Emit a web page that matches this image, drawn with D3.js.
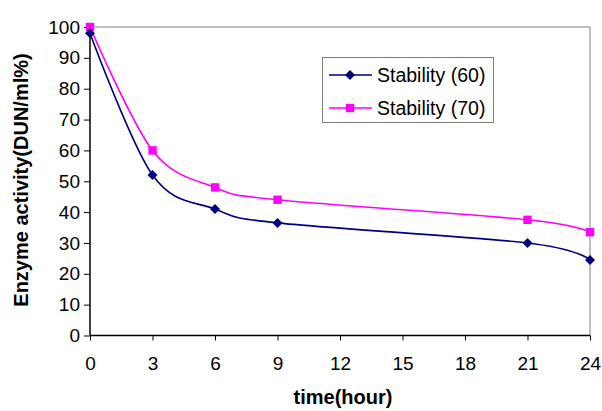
<!DOCTYPE html>
<html><head><meta charset="utf-8">
<script src="https://cdn.jsdelivr.net/npm/d3@7"></script>
<style>body{margin:0;background:#fff}svg{display:block;font-family:Arial,"Liberation Sans",sans-serif}</style>
</head><body><svg id="c" width="602" height="411"></svg>
<script>
const hours = [0, 3, 6, 9, 21, 24];
const stability60 = [98, 52, 41, 36.5, 30, 24.5];
const stability70 = [100, 60, 48, 44, 37.5, 33.5];
const xTicks = [0, 3, 6, 9, 12, 15, 18, 21, 24];
const yTicks = [0, 10, 20, 30, 40, 50, 60, 70, 80, 90, 100];
const seriesNames = ["Stability (60)", "Stability (70)"];

const svg = d3.select("#c");
const L = 90, R = 590, T = 27, B = 335.5;
const x = d3.scaleLinear().domain([0, 24]).range([L, R]);
const y = d3.scaleLinear().domain([0, 100]).range([B, T]);

svg.append("path").attr("d", `M${L},${T}H${R}V${B}`).attr("fill","none").attr("stroke","#808080").attr("stroke-width",1);

const yAx = svg.append("g").attr("transform",`translate(${L},0)`)
  .call(d3.axisLeft(y).tickValues(yTicks).tickSize(6).tickPadding(4));
const xAx = svg.append("g").attr("transform",`translate(0,${B})`)
  .call(d3.axisBottom(x).tickValues(xTicks).tickSize(5).tickPadding(16));
[yAx, xAx].forEach(g => {
  g.select(".domain").attr("stroke","#000").attr("stroke-width",1.5);
  g.selectAll(".tick line").attr("stroke","#000");
  g.selectAll("text").attr("font-size","19px").attr("fill","#000").attr("font-family","Arial, 'Liberation Sans', sans-serif");
});
yAx.select(".domain").attr("d", `M0,${B}V${T}`);
xAx.select(".domain").attr("d", `M${L},0H${R}`);

const line = d3.line().x((d,i)=>x(hours[i])).y(d=>y(d)).curve(d3.curveCardinal.tension(0));
const cols = ["#000080", "#FF00FF"];
const data = [stability60, stability70];

data.forEach((s, k) => {
  svg.append("path").attr("d", line(s)).attr("fill","none").attr("stroke",cols[k]).attr("stroke-width",1.6);
});
const diamond = d3.symbol().type(d3.symbolDiamond2).size(64);
const square = d3.symbol().type(d3.symbolSquare).size(70);
svg.append("g").selectAll("path").data(stability70).join("path")
  .attr("transform",(d,i)=>`translate(${x(hours[i])},${y(d)})`).attr("d", square()).attr("fill",cols[1]);
svg.append("g").selectAll("path").data(stability60).join("path")
  .attr("transform",(d,i)=>`translate(${x(hours[i])},${y(d)})`).attr("d", diamond()).attr("fill",cols[0]);

const lg = svg.append("g");
lg.append("rect").attr("x",322.5).attr("y",57.5).attr("width",171).attr("height",65).attr("fill","#fff").attr("stroke","#808080");
seriesNames.forEach((n,k)=>{
  const yy = 75 + k*33;
  lg.append("line").attr("x1",329).attr("x2",372).attr("y1",yy).attr("y2",yy).attr("stroke",cols[k]).attr("stroke-width",1.6);
  lg.append("path").attr("transform",`translate(350,${yy})`).attr("d", k===0?diamond():square()).attr("fill",cols[k]);
  lg.append("text").attr("x",377).attr("y",yy+7).attr("font-size","19.5px").text(n);
});

svg.append("text").attr("x",343).attr("y",404).attr("text-anchor","middle").attr("font-size","20px").attr("font-weight","bold").text("time(hour)");
svg.append("text").attr("transform","translate(28,180) rotate(-90)").attr("text-anchor","middle").attr("font-size","20px").attr("font-weight","bold").text("Enzyme activity(DUN/ml%)");
</script></body></html>
